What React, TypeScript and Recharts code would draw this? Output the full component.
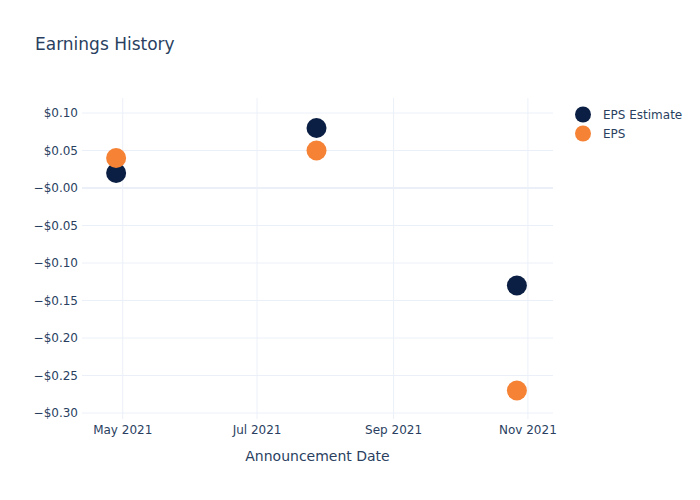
import React from 'react';
import { ScatterChart, Scatter, XAxis, YAxis, ReferenceLine } from 'recharts';

const dates = ['2021-04-28', '2021-07-28', '2021-10-27'];
const epsEstimate = [0.02, 0.08, -0.13];
const eps = [0.04, 0.05, -0.27];
const xTickDates = ['2021-05-01', '2021-07-01', '2021-09-01', '2021-11-01'];
const xTickLabels = ['May 2021', 'Jul 2021', 'Sep 2021', 'Nov 2021'];
const yTicks = [0.1, 0.05, 0, -0.05, -0.1, -0.15, -0.2, -0.25, -0.3];
const yTickLabels = ['$0.10', '$0.05', '\u2212$0.00', '\u2212$0.05', '\u2212$0.10', '\u2212$0.15', '\u2212$0.20', '\u2212$0.25', '\u2212$0.30'];

const NAVY = '#0b1f44';
const ORANGE = '#f58235';
const TEXT = '#2a3f5f';
const GRID = '#ebf0f8';
const FONT = '"DejaVu Sans", Verdana, sans-serif';

const toTs = (d: string) => Date.parse(d + 'T00:00:00Z');
const DAY = 86400000;

const estData = dates.map((d, i) => ({ x: toTs(d), y: epsEstimate[i] }));
const epsData = dates.map((d, i) => ({ x: toTs(d), y: eps[i] }));
const xTicks = xTickDates.map(toTs);
const xDomain = [toTs('2021-05-01') - 18.5 * DAY, toTs('2021-11-01') + 11.4 * DAY];

const xFmt = (v: number) => {
  const i = xTicks.indexOf(v);
  return i >= 0 ? xTickLabels[i] : '';
};
const yFmt = (v: number) => {
  const i = yTicks.findIndex((t) => Math.abs(t - v) < 1e-9);
  return i >= 0 ? yTickLabels[i] : '';
};

const dot = (color: string) => (props: any) => (
  <circle cx={props.cx} cy={props.cy} r={10} fill={color} />
);

const legendItems = [
  { name: 'EPS Estimate', color: NAVY },
  { name: 'EPS', color: ORANGE },
];

export default function App() {
  return (
    <div style={{ position: 'absolute', left: 0, top: 0, width: 700, height: 500, background: '#fff', fontFamily: FONT }}>
      <div style={{ position: 'absolute', left: 35, top: 34, fontSize: 17, color: TEXT, fontFamily: FONT, whiteSpace: 'nowrap' }}>
        Earnings History
      </div>
      <div style={{ position: 'absolute', left: 573, top: 105, fontFamily: FONT, fontSize: 12, color: TEXT }}>
        {legendItems.map((it) => (
          <div key={it.name} style={{ display: 'flex', alignItems: 'center', height: 19 }}>
            <svg width={20} height={19} style={{ marginRight: 10 }}>
              <circle cx={10} cy={9.5} r={8} fill={it.color} />
            </svg>
            <span>{it.name}</span>
          </div>
        ))}
      </div>
      <ScatterChart width={700} height={500} margin={{ top: 98, right: 147, bottom: 21, left: 0 }}>
        <XAxis
          type="number"
          dataKey="x"
          domain={xDomain}
          ticks={xTicks}
          tickFormatter={xFmt}
          allowDataOverflow
          axisLine={false}
          tickLine={false}
          tickSize={0}
          tickMargin={6}
          height={60}
          tick={{ fill: TEXT, fontSize: 12, fontFamily: FONT }}
          label={{ value: 'Announcement Date', position: 'insideBottom', offset: 18, fill: TEXT, fontSize: 14, fontFamily: FONT }}
        />
        <YAxis
          type="number"
          dataKey="y"
          domain={[-0.308, 0.12]}
          ticks={yTicks}
          tickFormatter={yFmt}
          allowDataOverflow
          axisLine={false}
          tickLine={false}
          tickSize={0}
          tickMargin={4}
          width={82}
          tick={{ fill: TEXT, fontSize: 12, fontFamily: FONT }}
        />
        {xTicks.map((t) => (
          <ReferenceLine key={'vx' + t} x={t} stroke={GRID} strokeWidth={1} />
        ))}
        {yTicks.map((t) => (
          <ReferenceLine key={'hy' + t} y={t} stroke={GRID} strokeWidth={t === 0 ? 2 : 1} />
        ))}
        <Scatter name="EPS Estimate" data={estData} fill={NAVY} shape={dot(NAVY)} isAnimationActive={false} />
        <Scatter name="EPS" data={epsData} fill={ORANGE} shape={dot(ORANGE)} isAnimationActive={false} />
      </ScatterChart>
    </div>
  );
}
